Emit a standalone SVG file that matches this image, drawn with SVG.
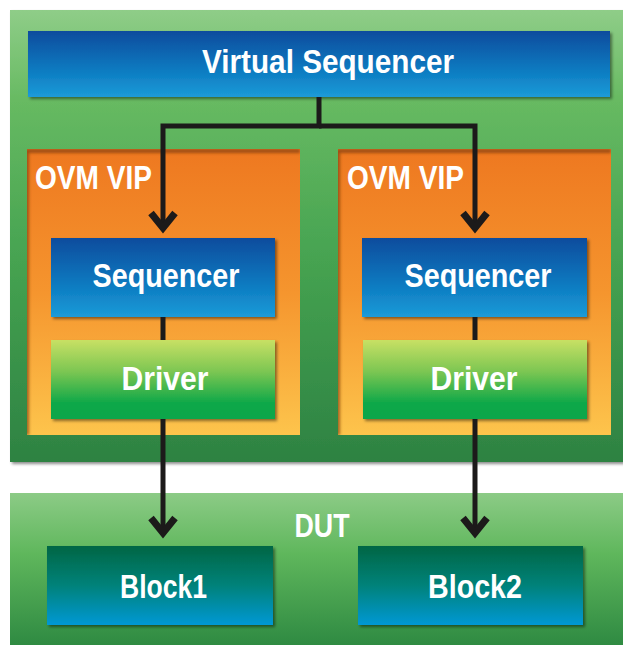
<svg xmlns="http://www.w3.org/2000/svg" width="623" height="645" viewBox="0 0 623 645">
<defs>
<linearGradient id="gTop" x1="0" y1="0" x2="0" y2="1"><stop offset="0" stop-color="#8fcd88"/><stop offset="0.2" stop-color="#67ba62"/><stop offset="0.55" stop-color="#46a351"/><stop offset="1" stop-color="#2d8242"/></linearGradient>
<linearGradient id="gDut" x1="0" y1="0" x2="0" y2="1"><stop offset="0" stop-color="#8ccb86"/><stop offset="0.4" stop-color="#5fb75c"/><stop offset="1" stop-color="#2f8a42"/></linearGradient>
<linearGradient id="gBlue" x1="0" y1="0" x2="0" y2="1"><stop offset="0" stop-color="#0c4c9d"/><stop offset="0.5" stop-color="#0a73bb"/><stop offset="1" stop-color="#1b9bd8"/></linearGradient>
<linearGradient id="gVip" x1="0" y1="0" x2="0" y2="1"><stop offset="0" stop-color="#ee7820"/><stop offset="0.5" stop-color="#f5952e"/><stop offset="1" stop-color="#fdc44c"/></linearGradient>
<linearGradient id="gDrv" x1="0" y1="0" x2="0" y2="1"><stop offset="0" stop-color="#c8e064"/><stop offset="0.4" stop-color="#7cc652"/><stop offset="0.8" stop-color="#0ea849"/><stop offset="1" stop-color="#11a64b"/></linearGradient>
<linearGradient id="gBlk" x1="0" y1="0" x2="0" y2="1"><stop offset="0" stop-color="#006644"/><stop offset="0.5" stop-color="#00827a"/><stop offset="1" stop-color="#0098d4"/></linearGradient>
<filter id="sh" x="-10%" y="-10%" width="120%" height="130%"><feDropShadow dx="2" dy="2" stdDeviation="1.5" flood-color="#000" flood-opacity="0.45"/></filter>
<filter id="blur"><feGaussianBlur stdDeviation="1.5"/></filter>
<marker id="arr" markerUnits="userSpaceOnUse" markerWidth="40" markerHeight="40" viewBox="-20 -20 40 40" refX="0" refY="0" orient="auto" overflow="visible">
<path d="M-15,-12 L0,0 L-15,12" fill="none" stroke="#1c1a1a" stroke-width="7"/>
</marker>
<clipPath id="cl1"><rect x="27" y="149" width="273" height="286"/></clipPath>
<clipPath id="cl2"><rect x="338" y="149" width="273" height="286"/></clipPath>
</defs>
<style>
.lbl{font-family:"Liberation Sans",Arial,sans-serif;font-weight:bold;fill:#ffffff;font-size:34px;}
.mid{text-anchor:middle;}
.conn{fill:none;stroke:#1c1a1a;stroke-width:5;stroke-linejoin:miter;}
.vipsh{fill:none;stroke:#7a3a08;stroke-width:4;opacity:0.7;}
</style>
<rect x="0" y="0" width="623" height="645" fill="#ffffff"/>
<g id="system">
<rect x="10" y="10" width="613" height="452" fill="url(#gTop)" filter="url(#sh)"/>
</g>
<g id="dut">
<rect x="10" y="493" width="613" height="152" fill="url(#gDut)"/>
<text class="lbl mid" x="322" y="537" textLength="55" lengthAdjust="spacingAndGlyphs">DUT</text>
</g>
<g id="virtual-sequencer">
<rect x="28" y="31" width="582" height="66" fill="url(#gBlue)" filter="url(#sh)"/>
<text class="lbl mid" x="328" y="73" textLength="252" lengthAdjust="spacingAndGlyphs">Virtual Sequencer</text>
</g>
<g id="ovm-vip-1">
<rect x="27" y="149" width="273" height="286" fill="url(#gVip)"/>
<path class="vipsh" d="M27,435 V151 H300" clip-path="url(#cl1)" filter="url(#blur)"/>
<text class="lbl" x="35" y="189" textLength="117" lengthAdjust="spacingAndGlyphs">OVM VIP</text>
</g>
<g id="ovm-vip-2">
<rect x="338" y="149" width="273" height="286" fill="url(#gVip)"/>
<path class="vipsh" d="M338,435 V151 H611" clip-path="url(#cl2)" filter="url(#blur)"/>
<text class="lbl" x="347" y="189" textLength="117" lengthAdjust="spacingAndGlyphs">OVM VIP</text>
</g>
<g id="sequencer-1">
<rect x="51" y="238" width="224" height="79" fill="url(#gBlue)" filter="url(#sh)"/>
<text class="lbl mid" x="166" y="287" textLength="147" lengthAdjust="spacingAndGlyphs">Sequencer</text>
</g>
<g id="sequencer-2">
<rect x="362" y="238" width="225" height="79" fill="url(#gBlue)" filter="url(#sh)"/>
<text class="lbl mid" x="478" y="287" textLength="147" lengthAdjust="spacingAndGlyphs">Sequencer</text>
</g>
<g id="driver-1">
<rect x="51" y="340" width="224" height="79" fill="url(#gDrv)" filter="url(#sh)"/>
<text class="lbl mid" x="165" y="390" textLength="87" lengthAdjust="spacingAndGlyphs">Driver</text>
</g>
<g id="driver-2">
<rect x="363" y="340" width="224" height="79" fill="url(#gDrv)" filter="url(#sh)"/>
<text class="lbl mid" x="474" y="390" textLength="87" lengthAdjust="spacingAndGlyphs">Driver</text>
</g>
<g id="block1">
<rect x="47" y="546" width="226" height="79" fill="url(#gBlk)" filter="url(#sh)"/>
<text class="lbl mid" x="163.5" y="598" textLength="87" lengthAdjust="spacingAndGlyphs">Block1</text>
</g>
<g id="block2">
<rect x="358" y="546" width="225" height="79" fill="url(#gBlk)" filter="url(#sh)"/>
<text class="lbl mid" x="475" y="598" textLength="94" lengthAdjust="spacingAndGlyphs">Block2</text>
</g>
<g id="connectors">
<path class="conn" d="M319,97 V126 H163 V228" marker-end="url(#arr)"/>
<path class="conn" d="M319,126 H475 V228" marker-end="url(#arr)"/>
<path class="conn" d="M163,317 V340"/>
<path class="conn" d="M475,317 V340"/>
<path class="conn" d="M163,419 V533" marker-end="url(#arr)"/>
<path class="conn" d="M475,419 V533" marker-end="url(#arr)"/>
</g>
</svg>
